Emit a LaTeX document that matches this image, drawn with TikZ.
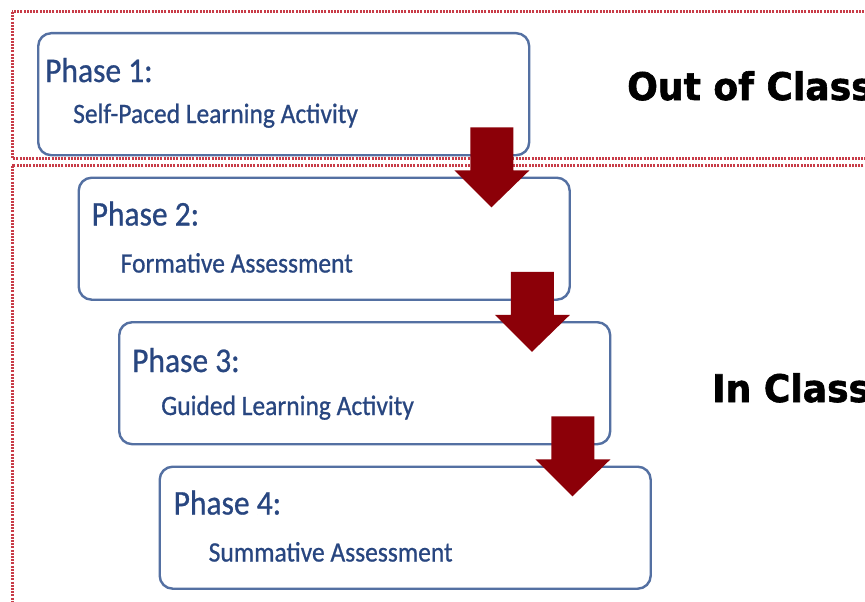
\documentclass[tikz,border=0pt]{standalone}
\usepackage{fontspec}
\setmainfont{Carlito}
\newfontfamily\phasefont{Carlito}[FakeBold=0.8]
\newfontfamily\heavyfont{DejaVu Sans Bold}[FakeBold=1.6]
\usetikzlibrary{calc}
\definecolor{boxblue}{RGB}{84,112,162}
\definecolor{textblue}{RGB}{40,70,128}
\definecolor{arrowred}{RGB}{140,0,8}
\definecolor{dotred}{RGB}{200,60,72}
\newcommand\talltext[1]{\scalebox{1}[1.1]{#1}}
\newcommand\widetext[1]{\scalebox{0.95}[1]{#1}}
\tikzset{
  phasebox/.style={draw=boxblue, line width=2.4pt, rounded corners=13pt,
    minimum width=491pt, minimum height=122pt, anchor=north west, inner sep=0pt},
  phasetitle/.style={text=textblue, anchor=base west, inner sep=0pt,
    font=\phasefont\fontsize{31.5}{34}\selectfont},
  phasesub/.style={text=textblue, anchor=base west, inner sep=0pt,
    font=\phasefont\fontsize{25.5}{28}\selectfont},
  zonelabel/.style={anchor=base west, inner sep=0pt,
    font=\heavyfont\fontsize{38}{40}\selectfont},
  dotline/.style={draw=dotred, line width=3pt, dash pattern=on 2pt off 1.2pt},
  barrow/.pic={\fill[arrowred] (-60,-29) -- (-17,-29) -- (-17,14) -- (-1,14)
     -- (-39,51) -- (-76,14) -- (-60,14) -- cycle;}
}
\begin{document}
\begin{tikzpicture}[x=1pt,y=-1pt]
\useasboundingbox (0,0) rectangle (865,602);
\clip (0,0) rectangle (865,602);
\fill[white] (0,0) rectangle (865,602);
% zones
\draw[dotline] (12,12) rectangle (940,158);
\draw[dotline] (12,165.5) rectangle (940,700);
\node[zonelabel] (outclass) at (627,100) {\widetext{Out of Class}};
\node[zonelabel] (inclass) at (712,402) {\widetext{In Class}};
% boxes
\node[phasebox] (p1) at (37,32) {};
\node[phasebox] (p2) at (77.5,176.5) {};
\node[phasebox] (p3) at (118,321) {};
\node[phasebox] (p4) at (158.5,465.5) {};
% texts
\node[phasetitle] (t1) at ($(p1.north west)+(8,50)$) {\talltext{Phase 1:}};
\node[phasesub] (s1) at ($(p1.north west)+(36,91)$) {\talltext{Self-Paced Learning Activity}};
\node[phasetitle] (t2) at ($(p2.north west)+(14,49)$) {\talltext{Phase 2:}};
\node[phasesub] (s2) at ($(p2.north west)+(43,96)$) {\talltext{Formative Assessment}};
\node[phasetitle] (t3) at ($(p3.north west)+(14,51)$) {\talltext{Phase 3:}};
\node[phasesub] (s3) at ($(p3.north west)+(43,94)$) {\talltext{Guided Learning Activity}};
\node[phasetitle] (t4) at ($(p4.north west)+(15,49)$) {\talltext{Phase 4:}};
\node[phasesub] (s4) at ($(p4.north west)+(50,96)$) {\talltext{Summative Assessment}};
% arrows
\pic (a1) at (p1.south east) {barrow};
\pic (a2) at (p2.south east) {barrow};
\pic (a3) at (p3.south east) {barrow};
\end{tikzpicture}
\end{document}
